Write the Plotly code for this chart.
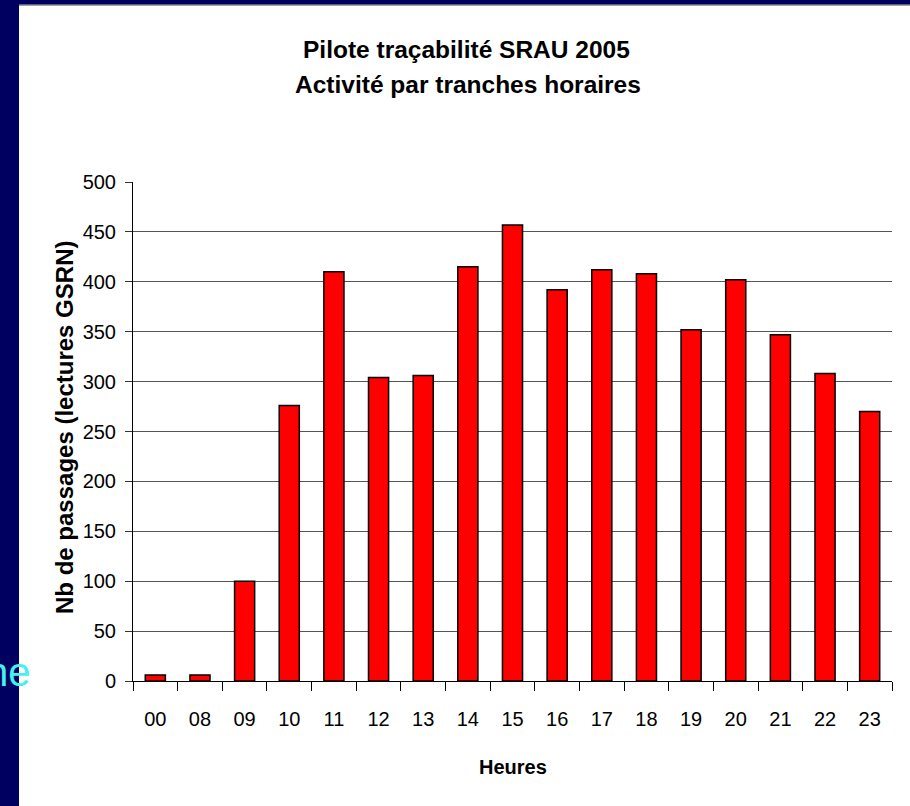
import plotly.graph_objects as go

heures = ["00", "08", "09", "10", "11", "12", "13", "14", "15", "16",
          "17", "18", "19", "20", "21", "22", "23"]
passages = [6, 6, 100, 276, 410, 304, 306, 415, 457, 392,
            412, 408, 352, 402, 347, 308, 270]
y_ticks = [0, 50, 100, 150, 200, 250, 300, 350, 400, 450, 500]
grid_vals = [50, 100, 150, 200, 250, 300, 350, 400, 450]

titre_1 = "Pilote traçabilité SRAU 2005"
titre_2 = "Activité par tranches horaires"
titre_x = "Heures"
titre_y = "Nb de passages (lectures GSRN)"

FONT = "Liberation Sans, Arial, sans-serif"

W, H = 910, 806
L, R, T, B = 133, 18, 182, 125
pw, ph = W - L - R, H - T - B


def px_x(p):
    return (p - L) / pw


def px_y(p):
    return (H - B - p) / ph


fig = go.Figure()
fig.add_trace(go.Bar(
    x=heures, y=passages,
    marker=dict(color="#FF0000", line=dict(color="#000000", width=1.5)),
    showlegend=False, hoverinfo="x+y",
))
# invisible companion trace that carries the gridline axis
fig.add_trace(go.Scatter(
    x=heures, y=passages, yaxis="y2", mode="none",
    showlegend=False, hoverinfo="skip",
))

fig.update_layout(
    width=W, height=H,
    margin=dict(l=L, r=R, t=T, b=B),
    paper_bgcolor="#000060",
    plot_bgcolor="rgba(0,0,0,0)",
    bargap=0.55,
    font=dict(family=FONT, color="#000000"),
    xaxis=dict(
        type="category",
        showline=True, linecolor="#000000", linewidth=1,
        ticks="outside", tickson="boundaries", ticklen=9, tickcolor="#000000",
        tickfont=dict(family=FONT, size=20, color="#000000"),
        ticklabelstandoff=20,
        showgrid=False,
        automargin=False,
    ),
    yaxis=dict(
        range=[0, 500], tickvals=y_ticks,
        showline=True, linecolor="#000000", linewidth=1,
        ticks="outside", ticklen=7, tickcolor="#333333",
        tickfont=dict(family=FONT, size=20, color="#000000"),
        ticklabelstandoff=5,
        showgrid=False, zeroline=False,
        automargin=False,
    ),
    yaxis2=dict(
        overlaying="y", range=[0, 500], tickvals=grid_vals,
        showgrid=True, gridcolor="#555555", gridwidth=1,
        showticklabels=False, ticks="", showline=False, zeroline=False,
    ),
    shapes=[
        dict(type="rect", xref="paper", yref="paper",
             x0=px_x(19), x1=px_x(912), y0=px_y(808), y1=px_y(5),
             fillcolor="#FFFFFF", line=dict(width=0), layer="below"),
        dict(type="line", xref="paper", yref="paper",
             x0=px_x(19), x1=px_x(912), y0=px_y(5), y1=px_y(5),
             line=dict(color="#808080", width=1.5), layer="below"),
    ],
    annotations=[
        dict(text="<b>" + titre_1 + "</b>", xref="paper", yref="paper",
             x=px_x(466), y=px_y(49), xanchor="center", yanchor="middle",
             showarrow=False, font=dict(family=FONT, size=24.5, color="#000000")),
        dict(text="<b>" + titre_2 + "</b>", xref="paper", yref="paper",
             x=px_x(468), y=px_y(85), xanchor="center", yanchor="middle",
             showarrow=False, font=dict(family=FONT, size=24.5, color="#000000")),
        dict(text="<b>" + titre_x + "</b>", xref="paper", yref="paper",
             x=px_x(513), y=px_y(767), xanchor="center", yanchor="middle",
             showarrow=False, font=dict(family=FONT, size=20, color="#000000")),
        dict(text="<b>" + titre_y + "</b>", xref="paper", yref="paper",
             x=px_x(64), y=px_y(428), xanchor="center", yanchor="middle",
             textangle=-90, showarrow=False,
             font=dict(family=FONT, size=24, color="#000000")),
        dict(text="ne", xref="paper", yref="paper",
             x=px_x(33), y=px_y(672), xanchor="right", yanchor="middle",
             showarrow=False,
             font=dict(family=FONT, size=40, color="#44F0F0")),
    ],
)

fig.write_html("out.html", config={"displayModeBar": False},
               post_script="document.body.style.margin='0';")
